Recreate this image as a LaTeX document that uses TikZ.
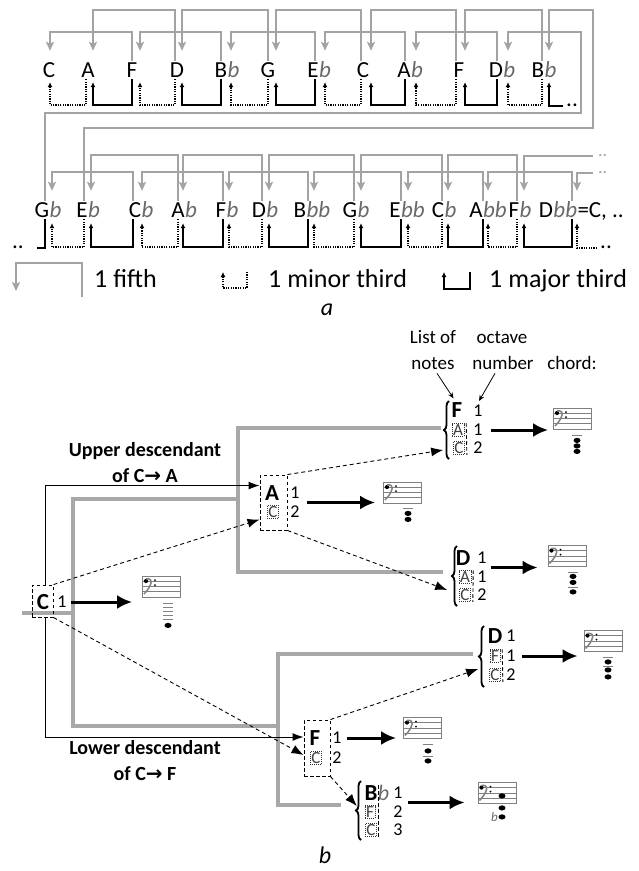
\documentclass[tikz,border=0pt]{standalone}
\usepackage{fontspec}
\setmainfont{Carlito}
\newfontfamily\arrowfont{DejaVu Sans}
\usetikzlibrary{positioning, arrows.meta, calc, decorations.pathreplacing, fit}

\definecolor{fifthgray}{RGB}{163,163,163}
\definecolor{treegray}{RGB}{168,168,168}
\definecolor{flatgray}{RGB}{105,105,105}

\newcommand{\notesize}{\fontsize{23}{23}\selectfont}

\begin{document}
\begin{tikzpicture}[
    x=1pt, y=-1pt,
    note/.style={font=\notesize, inner sep=0pt, text height=15pt, text depth=0pt, anchor=base},
    flatsty/.style={font=\notesize\itshape, text=flatgray, inner sep=0pt, anchor=base west},
    dotsty/.style={font=\notesize, inner sep=0pt, text height=0pt, text depth=0pt, anchor=base west},
    fifth/.style={draw=fifthgray, line width=1.8pt, -{Stealth[length=9pt, width=8pt, inset=2pt]}},
    major/.style={line width=1.5pt, -{Latex[length=5pt, width=5pt]}},
    minor/.style={line width=1.3pt, dash pattern=on 1.2pt off 1.2pt, -{Latex[length=5pt, width=5pt]}},
    lgd/.style={font=\fontsize{26}{26}\selectfont, inner sep=0pt, anchor=base west},
    lbl/.style={font=\fontsize{19}{19}\selectfont, inner sep=0pt, anchor=base},
    desclbl/.style={font=\bfseries\fontsize{20}{26}\selectfont, align=center, inner sep=0pt},
    bignote/.style={font=\bfseries\fontsize{23}{23}\selectfont, inner sep=0pt},
    smallnote/.style={font=\fontsize{17}{17}\selectfont, text=black!75, draw=black!80, dash pattern=on 1pt off 1pt, line width=0.6pt, inner sep=1pt},
    octnum/.style={font=\fontsize{18}{18}\selectfont, inner sep=0pt},
    dashbox/.style={draw, dash pattern=on 3.5pt off 2.5pt, line width=0.9pt},
    sep/.style={dash pattern=on 3.5pt off 2.5pt, line width=0.9pt},
    curly/.style={decorate, decoration={brace, amplitude=5pt}, line width=1.8pt},
    tree/.style={draw=treegray, line width=4pt},
    desc/.style={line width=1pt, -{Latex[length=11pt, width=8pt]}},
    link/.style={dash pattern=on 4pt off 3pt, line width=0.9pt, -{Latex[length=12pt, width=9pt]}},
    tochord/.style={line width=3pt, -{Latex[length=15pt, width=14pt]}},
    pointer/.style={line width=0.8pt, -{Stealth[length=6pt, width=5pt]}},
    ledger/.style={draw=gray, line width=0.8pt},
    staff/.style={draw=gray, line width=0.8pt, minimum width=38pt, minimum height=21pt, inner sep=0pt,
        path picture={
            \foreach \k in {0.25,0.5,0.75}
                \draw[gray, line width=0.7pt] ([yshift=-\k*21pt]path picture bounding box.north west) -- ([yshift=-\k*21pt]path picture bounding box.north east);
            \fill ([xshift=3.5pt, yshift=-5pt]path picture bounding box.north west) circle (2.1pt);
            \draw[line width=1.5pt] ([xshift=3.5pt, yshift=-3pt]path picture bounding box.north west) .. controls +(8pt,1.5pt) and +(8pt,8pt) .. ([xshift=1.5pt, yshift=-18pt]path picture bounding box.north west);
            \fill ([xshift=12.5pt, yshift=-4pt]path picture bounding box.north west) circle (1pt);
            \fill ([xshift=12.5pt, yshift=-9pt]path picture bounding box.north west) circle (1pt);
        }}
]
\useasboundingbox (0,0) rectangle (638,871);

% ---- part a, first row of notes
\foreach \i/\x/\nm/\fa/\px/\ax in {1/49/C//-1/1, 2/88/A//-2/5, 3/132/F//0/8, 4/177/D//-2/5,
        5/221/B/b/0/10, 6/268/G//0/8, 7/313/E/b/2/12, 8/363/C//-2/8, 9/404/A/b/1/12,
        10/459/F//-3/6, 11/496/D/b/1/12, 12/538/B/b/4/11} {
    \node[note] (r1-\i) at (\x,77) {\nm};
    \node[flatsty] (r1-\i-fl) at (r1-\i.base east) {\fa};
    \coordinate (r1-\i-p) at ($(r1-\i.north)+(\px,-1)$);
    \coordinate (r1-\i-a) at ($(r1-\i.north)+(\ax,-11)$);
    \coordinate (r1-\i-d) at ($(r1-\i.south)+(\px,2)$);
    \coordinate (r1-\i-u) at ($(r1-\i.south)+(\ax,5)$);
}

% ---- part a, second row of notes
\foreach \i/\x/\nm/\fa/\px/\ax in {1/42/G/b/3/10, 2/82/E/b/2/9, 3/135/C/b/-2/7, 4/178/A/b/0/5,
        5/221/F/b/2/8, 6/259/D/b/3/10, 7/300/B/bb/8/14, 8/350/G/b/4/11, 9/395/E/bb/6/13,
        10/438/C/b/4/10, 11/476/A/bb/7/12, 12/514/F/b/3/10, 13/546/D/bb/26/31} {
    \node[note] (r2-\i) at (\x,217) {\nm};
    \node[flatsty] (r2-\i-fl) at (r2-\i.base east) {\fa};
    \coordinate (r2-\i-p) at ($(r2-\i.north)+(\px,-1)$);
    \coordinate (r2-\i-a) at ($(r2-\i.north)+(\ax,-11)$);
    \coordinate (r2-\i-d) at ($(r2-\i.south)+(\px,2)$);
    \coordinate (r2-\i-u) at ($(r2-\i.south)+(\ax,6)$);
}
\node[note, anchor=base west] (r2-tail) at (r2-13-fl.base east) {=C, ..};

% fifths
\foreach \i/\lev in {1/32, 2/10, 3/32, 4/10, 5/32, 6/10, 7/32, 8/10, 9/32, 10/10} {
    \pgfmathtruncatemacro{\j}{\i+2}
    \draw[fifth] (r1-\j-p) |- (r1-\i-a |- 0,\lev) -- (r1-\i-a);
}
\foreach \i/\lev in {1/172, 2/155, 3/172, 4/155, 5/172, 6/155, 7/172, 8/155, 9/172, 10/155, 11/172} {
    \pgfmathtruncatemacro{\j}{\i+2}
    \draw[fifth] (r2-\j-p) |- (r2-\i-a |- 0,\lev) -- (r2-\i-a);
}
\draw[fifth] (r2-1-p) |- (581,113) |- (r1-11-a |- 0,32) -- (r1-11-a);
\draw[fifth] (r2-2-p) |- (593,128) |- (r1-12-a |- 0,10) -- (r1-12-a);
\node[dotsty, font=\fontsize{18}{18}\selectfont, text=fifthgray] (r2-endC) at (598,156) {..};
\node[dotsty, font=\fontsize{18}{18}\selectfont, text=fifthgray] (r2-endD) at (598,173) {..};
\draw[fifth, shorten <=5pt] (r2-endC.west) -| (r2-12-a);
\draw[fifth, shorten <=5pt] (r2-endD.west) -| (r2-13-a);

% thirds
\foreach \i in {1,3,5,7,9,11} {
    \pgfmathtruncatemacro{\j}{\i+1}
    \draw[minor] (r1-\j-d) |- (r1-\i-u |- 0,105) -- (r1-\i-u);
    \draw[minor] (r2-\j-d) |- (r2-\i-u |- 0,247) -- (r2-\i-u);
}
\foreach \i in {2,4,6,8,10,12} {
    \pgfmathtruncatemacro{\j}{\i+1}
    \ifnum\i<12 \draw[major] (r1-\j-d) |- (r1-\i-u |- 0,105) -- (r1-\i-u); \fi
    \draw[major] (r2-\j-d) |- (r2-\i-u |- 0,247) -- (r2-\i-u);
}
\node[dotsty] (r1-end) at (566,106) {..};
\draw[major, shorten <=3pt] (r1-end.west) -| (r1-12-u);
\node[dotsty] (r2-start) at (12,248) {..};
\draw[line width=1.5pt, shorten >=13pt] (r2-1-d) |- (r2-start.east);
\node[dotsty] (r2-end) at (600,248) {..};
\draw[minor, shorten <=3pt] (r2-end.west) -| (r2-13-u);

% legend
\draw[fifth] (82,297) |- (16,263) -- (16,291);
\node[lgd] (lgdfifth) at (94,287) {1 fifth};
\draw[minor] (247,272) |- (223,288) -- (223,272);
\node[lgd] (lgdminor) at (268,287) {1 minor third};
\draw[major] (470,272) |- (444,289) -- (444,272);
\node[lgd] (lgdmajor) at (489,287) {1 major third};
\node[font=\itshape\fontsize{24}{24}\selectfont, inner sep=0pt, anchor=base] (lbla) at (327,315) {a};

% ---- part b, headings
\node[lbl] (listof) at (433,343) {List of};
\node[lbl] (octave) at (502,343) {octave};
\node[lbl] (notes) at (433,369) {notes};
\node[lbl] (number) at (503,369) {number};
\node[lbl] (chord) at (572,369) {chord:};

% tree
\coordinate (root) at (22,613);
\draw[tree] (root) -- (73,613);
\draw[tree] (238,499) -| (73,726) -- (278,726);
\draw[tree] (441,428) -| (238,572) -- (443,572);
\draw[tree] (473,654) -| (278,805) -- (341,805);

% root C
\node[bignote] (c1) at (43,602) {C};
\node[dashbox, minimum width=21pt, minimum height=32pt] (cbox) at (42.5,601) {};
\node[octnum] (c1o) at (62,602) {1};
\node[staff] (cst) at (161.5,586.5) {};
\draw[tochord, shorten <=4pt, shorten >=10pt] (c1o.east) -- (c1o.east -| cst.west);
\foreach \dy in {6,10,14,18,22}
    \draw[ledger] ($(cst.south)+(1.5,\dy)$) -- ++(10,0);
\fill ($(cst.south)+(6.5,28)$) ellipse (3.5pt and 2.6pt);

% upper descendant A
\node[bignote] (ac1) at (272,493) {A};
\node[smallnote] (ac2) at (273,512) {C};
\node[dashbox, minimum width=27pt, minimum height=55pt] (acbox) at (273.5,502.5) {};
\node[octnum] (ac1o) at (295,493) {1};
\node[octnum] (ac2o) at (295,512) {2};
\node[staff] (acst) at (402.5,492.5) {};
\coordinate (acmid) at ($(ac1o.east)!0.5!(ac2o.east)$);
\draw[tochord, shorten <=7pt, shorten >=8pt] (acmid) -- (acmid -| acst.west);
\draw[ledger] ($(acst.south)+(0.5,5)$) -- ++(10,0);
\foreach \dy in {10,16}
    \fill ($(acst.south)+(5.5,\dy)$) ellipse (3.5pt and 2.6pt);

% F A C
\node[bignote] (fac1) at (457,410) {F};
\node[smallnote] (fac2) at (458,430) {A};
\node[smallnote] (fac3) at (459,448) {C};
\node[octnum] (fac1o) at (478,411) {1};
\node[octnum] (fac2o) at (478,430) {1};
\node[octnum] (fac3o) at (478,448) {2};
\draw[curly] (449,459) -- (449,401);
\draw[sep] ($(fac2.north east)+(2,0)$) -- ($(fac3.south east)+(2,0)$);
\node[staff] (facst) at (572.5,418.5) {};
\draw[tochord, shorten <=8pt, shorten >=5pt] (fac2o.east) -- (fac2o.east -| facst.west);
\draw[ledger] ($(facst.south)+(-0.5,6)$) -- ++(10,0);
\foreach \dy in {11,16.5,22}
    \fill ($(facst.south)+(4.5,\dy)$) ellipse (3.5pt and 2.6pt);

% D A C
\node[bignote] (dac1) at (463,558) {D};
\node[smallnote] (dac2) at (465,577) {A};
\node[smallnote] (dac3) at (465,595) {C};
\node[octnum] (dac1o) at (482,558) {1};
\node[octnum] (dac2o) at (482,577) {1};
\node[octnum] (dac3o) at (482,595) {2};
\draw[curly] (457,606) -- (457,546);
\draw[sep] ($(dac2.north east)+(2,0)$) -- ($(dac3.south east)+(2,0)$);
\node[staff] (dacst) at (567,556) {};
\coordinate (dacmid) at ($(dac1o.east)!0.5!(dac2o.east)$);
\draw[tochord, shorten <=4pt, shorten >=10pt] (dacmid) -- (dacmid -| dacst.west);
\foreach \dy in {5,20}
    \draw[ledger] ($(dacst.south)+(1,\dy)$) -- ++(10,0);
\foreach \dy in {9.5,15.5,25}
    \fill ($(dacst.south)+(6,\dy)$) ellipse (3.5pt and 2.6pt);

% lower descendant F
\node[bignote] (fc1) at (315,738) {F};
\node[smallnote] (fc2) at (316,758) {C};
\node[dashbox, minimum width=26pt, minimum height=56pt] (fcbox) at (317,748) {};
\node[octnum] (fc1o) at (337,738) {1};
\node[octnum] (fc2o) at (337,758) {2};
\node[staff] (fcst) at (422.5,728) {};
\draw[tochord, shorten <=5pt, shorten >=7pt] (fc1o.east) -- (fc1o.east -| fcst.west);
\foreach \dy in {5,17}
    \draw[ledger] ($(fcst.south)+(0.5,\dy)$) -- ++(10,0);
\foreach \dy in {12,22}
    \fill ($(fcst.south)+(5.5,\dy)$) ellipse (3.5pt and 2.6pt);

% D F C
\node[bignote] (dfc1) at (495,636) {D};
\node[smallnote] (dfc2) at (495,656) {F};
\node[smallnote] (dfc3) at (495,675) {C};
\node[octnum] (dfc1o) at (511,636) {1};
\node[octnum] (dfc2o) at (511,656) {1};
\node[octnum] (dfc3o) at (511,675) {2};
\draw[curly] (484,687) -- (484,626);
\draw[sep] ($(dfc2.north east)+(2,0)$) -- ($(dfc3.south east)+(2,0)$);
\node[staff] (dfcst) at (603,641) {};
\draw[tochord, shorten <=6pt, shorten >=6pt] (dfc2o.east) -- (dfc2o.east -| dfcst.west);
\foreach \dy in {5,14}
    \draw[ledger] ($(dfcst.south)+(0,\dy)$) -- ++(10,0);
\foreach \dy in {10,18,25}
    \fill ($(dfcst.south)+(5,\dy)$) ellipse (3.5pt and 2.6pt);

% B flat F C
\node[bignote] (bfc1) at (371,793) {B};
\node[flatsty, font=\fontsize{22}{22}\selectfont\itshape] (bfc1-fl) at (bfc1.base east) {b};
\node[smallnote] (bfc2) at (370,812) {F};
\node[smallnote] (bfc3) at (371,830) {C};
\node[octnum] (bfc1o) at (398,793) {1};
\node[octnum] (bfc2o) at (398,812) {2};
\node[octnum] (bfc3o) at (398,830) {3};
\draw[curly] (361,840) -- (361,781);
\draw[sep] ($(bfc2.east |- bfc1.north)+(3,0)$) -- ($(bfc2.east |- bfc3.south)+(3,0)$);
\node[staff] (bfcst) at (497,793) {};
\coordinate (bfcmid) at ($(bfc1o.east)!0.5!(bfc2o.east)$);
\draw[tochord, shorten <=5pt, shorten >=13pt] (bfcmid) -- (bfcmid -| bfcst.west);
\foreach \dy in {-8,4,13}
    \fill ($(bfcst.south)+(5,\dy)$) ellipse (3.5pt and 2.6pt);
\node[font=\fontsize{13}{13}\selectfont\itshape, text=flatgray, inner sep=0pt] (bfcflat) at ($(bfcst.south)+(-2.5,13)$) {b};

% descendants
\draw[desc] ([xshift=3pt]cbox.north) |- ([yshift=-11pt]acbox.north west);
\draw[desc] ([xshift=3pt]cbox.south) |- ([yshift=11pt]fcbox.west);
\node[desclbl] (upperlbl) at (145,463) {Upper descendant\\of C{\arrowfont\bfseries →} A};
\node[desclbl] (lowerlbl) at (145,761) {Lower descendant\\of C{\arrowfont\bfseries →} F};

% dashed links
\draw[link] (cbox.north east) -- ([yshift=-17pt]acbox.west);
\draw[link] (cbox.south east) -- ([yshift=-7pt]fcbox.west);
\draw[link] (acbox.north east) -- ($(fac3.west)+(-10,2)$);
\draw[link] (acbox.south east) -- ($(dac3.west)+(-12,-5)$);
\draw[link] (fcbox.north east) -- ($(dfc3.west)+(-11,-6)$);
\draw[link] (fcbox.south east) -- ($(bfc2.west)+(-8,-6)$);

% pointers to the columns
\draw[pointer] ($(notes.south)+(4,4)$) -- ($(fac1.north west)+(2,-4)$);
\draw[pointer] ($(number.south)+(-8,4)$) -- ($(fac1o.north)+(1,-4)$);

\node[font=\itshape\fontsize{24}{24}\selectfont, inner sep=0pt, anchor=base] (lblb) at (325,863) {b};
\end{tikzpicture}
\end{document}
